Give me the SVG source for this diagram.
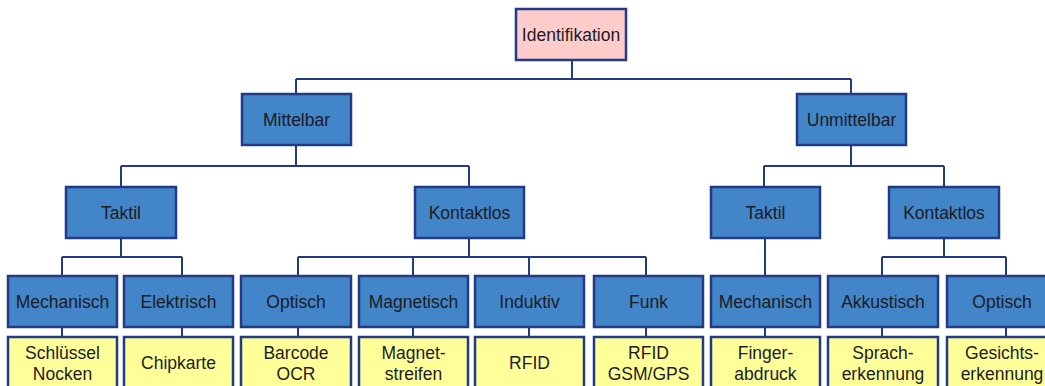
<svg xmlns="http://www.w3.org/2000/svg" width="1045" height="386" viewBox="0 0 1045 386">
  <style>
    .box rect { stroke: #233a86; stroke-width: 2.5; }
    .root rect { fill: #ffcccc; }
    .cat rect { fill: #4285c9; }
    .leaf rect { fill: #ffff99; }
    text { font-family: "Liberation Sans", Arial, sans-serif; font-size: 17.5px; fill: #1c1c24; text-anchor: middle; }
    .links path { fill: none; stroke: #233a86; stroke-width: 2; }
  </style>
  <rect width="1045" height="386" fill="#ffffff"/>

  <!-- connectors -->
  <g class="links" id="connectors">
    <path d="M572 60V79M296 79H851M296 79V94M851 79V94"/>
    <path d="M296 145V166M121 166H469M121 166V187M469 166V187"/>
    <path d="M851 145V166M764 166H944M764 166V187M944 166V187"/>
    <path d="M121 238V257M62 257H182M62 257V276M182 257V276"/>
    <path d="M469 238V257M298 257H646M298 257V276M413 257V276M529 257V276M646 257V276"/>
    <path d="M765 238V276"/>
    <path d="M944 238V257M882 257H1006M882 257V276M1006 257V276"/>
    <path d="M62 327V337M182 327V337M298 327V337M413 327V337M529 327V337M646 327V337M765 327V337M882 327V337M1006 327V337"/>
  </g>

  <!-- level 0 -->
  <g id="identifikation" class="box root"><rect x="516" y="9" width="110" height="51"/><text x="571" y="41">Identifikation</text></g>

  <!-- level 1 -->
  <g id="mittelbar" class="box cat"><rect x="242" y="94" width="109" height="51"/><text x="296.5" y="126">Mittelbar</text></g>
  <g id="unmittelbar" class="box cat"><rect x="797" y="94" width="109" height="51"/><text x="851.5" y="126">Unmittelbar</text></g>

  <!-- level 2 -->
  <g id="taktil-m" class="box cat"><rect x="66" y="187" width="110" height="51"/><text x="121" y="219">Taktil</text></g>
  <g id="kontaktlos-m" class="box cat"><rect x="415" y="187" width="109" height="51"/><text x="469.5" y="219">Kontaktlos</text></g>
  <g id="taktil-u" class="box cat"><rect x="711" y="187" width="109" height="51"/><text x="765.5" y="219">Taktil</text></g>
  <g id="kontaktlos-u" class="box cat"><rect x="889" y="187" width="110" height="51"/><text x="944" y="219">Kontaktlos</text></g>

  <!-- level 3 -->
  <g id="mechanisch-m" class="box cat"><rect x="8" y="276" width="109" height="51"/><text x="62.5" y="308">Mechanisch</text></g>
  <g id="elektrisch" class="box cat"><rect x="124" y="276" width="109" height="51"/><text x="178.5" y="308">Elektrisch</text></g>
  <g id="optisch-m" class="box cat"><rect x="241" y="276" width="110" height="51"/><text x="296" y="308">Optisch</text></g>
  <g id="magnetisch" class="box cat"><rect x="359" y="276" width="109" height="51"/><text x="413.5" y="308">Magnetisch</text></g>
  <g id="induktiv" class="box cat"><rect x="475" y="276" width="109" height="51"/><text x="529.5" y="308">Induktiv</text></g>
  <g id="funk" class="box cat"><rect x="594" y="276" width="109" height="51"/><text x="648.5" y="308">Funk</text></g>
  <g id="mechanisch-u" class="box cat"><rect x="711" y="276" width="109" height="51"/><text x="765.5" y="308">Mechanisch</text></g>
  <g id="akkustisch" class="box cat"><rect x="828" y="276" width="110" height="51"/><text x="883" y="308">Akkustisch</text></g>
  <g id="optisch-u" class="box cat"><rect x="947" y="276" width="110" height="51"/><text x="1002" y="308">Optisch</text></g>

  <!-- level 4: examples -->
  <g id="schluessel" class="box leaf"><rect x="8" y="337" width="109" height="56"/><text x="62.5" y="359">Schlüssel</text><text x="62.5" y="380">Nocken</text></g>
  <g id="chipkarte" class="box leaf"><rect x="124" y="337" width="109" height="56"/><text x="178.5" y="369">Chipkarte</text></g>
  <g id="barcode" class="box leaf"><rect x="241" y="337" width="110" height="56"/><text x="296" y="359">Barcode</text><text x="296" y="380">OCR</text></g>
  <g id="magnetstreifen" class="box leaf"><rect x="359" y="337" width="109" height="56"/><text x="413.5" y="359">Magnet-</text><text x="413.5" y="380">streifen</text></g>
  <g id="rfid-induktiv" class="box leaf"><rect x="475" y="337" width="109" height="56"/><text x="529.5" y="369">RFID</text></g>
  <g id="rfid-funk" class="box leaf"><rect x="594" y="337" width="109" height="56"/><text x="648.5" y="359">RFID</text><text x="648.5" y="380">GSM/GPS</text></g>
  <g id="fingerabdruck" class="box leaf"><rect x="711" y="337" width="109" height="56"/><text x="765.5" y="359">Finger-</text><text x="765.5" y="380">abdruck</text></g>
  <g id="spracherkennung" class="box leaf"><rect x="828" y="337" width="110" height="56"/><text x="883" y="359">Sprach-</text><text x="883" y="380">erkennung</text></g>
  <g id="gesichtserkennung" class="box leaf"><rect x="947" y="337" width="110" height="56"/><text x="1002" y="359">Gesichts-</text><text x="1002" y="380">erkennung</text></g>
</svg>
